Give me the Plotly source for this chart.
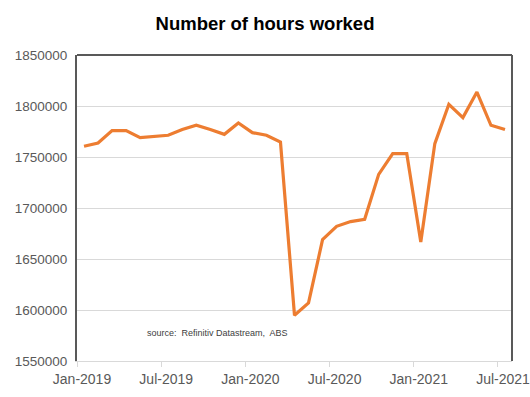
import plotly.graph_objects as go

months = ["Jan-2019","Feb-2019","Mar-2019","Apr-2019","May-2019","Jun-2019","Jul-2019","Aug-2019",
          "Sep-2019","Oct-2019","Nov-2019","Dec-2019","Jan-2020","Feb-2020","Mar-2020","Apr-2020",
          "May-2020","Jun-2020","Jul-2020","Aug-2020","Sep-2020","Oct-2020","Nov-2020","Dec-2020",
          "Jan-2021","Feb-2021","Mar-2021","Apr-2021","May-2021","Jun-2021","Jul-2021"]
hours = [1760500, 1763700, 1775900, 1775900, 1769000, 1770300, 1771300, 1776900,
         1781100, 1776900, 1772200, 1783300, 1773900, 1771300, 1764700, 1594800,
         1606900, 1669000, 1682000, 1686700, 1688900, 1733000, 1753300, 1753300,
         1666700, 1763100, 1801700, 1788600, 1813700, 1781100, 1776900]
tick_labels = ["Jan-2019", "Jul-2019", "Jan-2020", "Jul-2020", "Jan-2021", "Jul-2021"]
y_ticks = [1550000, 1600000, 1650000, 1700000, 1750000, 1800000, 1850000]

idx = list(range(len(months)))
tick_pos = [months.index(t) - 0.5 for t in tick_labels]

fig = go.Figure()
fig.add_trace(go.Scatter(x=idx, y=hours, mode="lines",
                         line=dict(color="#ED7D31", width=3.2),
                         hoverinfo="skip", showlegend=False))

font_main = "Liberation Sans, Arial, sans-serif"
fig.update_layout(
    width=530, height=397,
    margin=dict(l=77, r=18, t=55, b=36, autoexpand=False),
    paper_bgcolor="white", plot_bgcolor="white",
    font=dict(family=font_main, color="#595959", size=13.5),
    title=dict(text="<b>Number of hours worked</b>", x=265/530, xref="container",
               xanchor="center", y=1 - 24/397, yanchor="middle", yref="container",
               font=dict(family=font_main, size=18.5, color="#000000")),
    xaxis=dict(range=[-0.5, len(months) - 0.5], tickmode="array",
               tickvals=tick_pos, ticktext=tick_labels,
               showgrid=False, zeroline=False, automargin=False,
               showline=True, linecolor="#d9d9d9", linewidth=1,
               ticks="outside", ticklen=5, tickcolor="#d9d9d9", tickwidth=1,
               ticklabelshift=5, ticklabeloverflow="allow",
               tickfont=dict(size=14, color="#595959")),
    yaxis=dict(range=[1550000, 1850000], tickmode="array", tickvals=y_ticks,
               ticktext=[str(v) for v in y_ticks], automargin=False,
               showgrid=True, gridcolor="#d9d9d9", gridwidth=1,
               zeroline=False, showline=True, linecolor="#595959", linewidth=2,
               ticks="", ticklabelstandoff=5,
               tickfont=dict(size=13.5, color="#595959")),
    shapes=[
        dict(type="line", xref="paper", yref="paper", x0=0, x1=1, y0=1, y1=1,
             line=dict(color="#595959", width=2)),
        dict(type="line", xref="paper", yref="paper", x0=1, x1=1, y0=0, y1=1,
             line=dict(color="#595959", width=2)),
    ],
    annotations=[
        dict(text="source:  Refinitiv Datastream,  ABS", xref="paper", yref="paper",
             x=(145 - 77) / 435, y=(361 - 333) / 306, xanchor="left", yanchor="middle",
             showarrow=False, font=dict(family=font_main, size=9, color="#404040")),
    ],
)

fig.write_html("out.html")
